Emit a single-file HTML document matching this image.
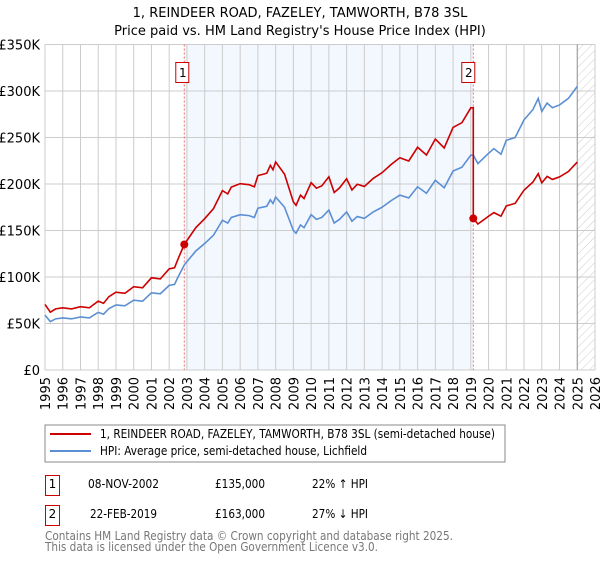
<!DOCTYPE html>
<html><head><meta charset="utf-8"><style>
body{margin:0;background:#fff;width:600px;height:560px;overflow:hidden;font-family:"DejaVu Sans","Liberation Sans",sans-serif}
svg text{font-family:"DejaVu Sans","Liberation Sans",sans-serif}
</style></head><body>
<svg id="c" width="600" height="560" xmlns="http://www.w3.org/2000/svg">
<defs><pattern id="hatch" width="6" height="6" patternUnits="userSpaceOnUse" patternTransform="rotate(45)"><line x1="0" y1="0" x2="0" y2="6" stroke="#ccc" stroke-width="1"/></pattern></defs>
<text x="300" y="17" text-anchor="middle" font-size="13">1, REINDEER ROAD, FAZELEY, TAMWORTH, B78 3SL</text>
<text x="300" y="35" text-anchor="middle" font-size="13">Price paid vs. HM Land Registry's House Price Index (HPI)</text>
<g id="plot"></g>
<rect x="45" y="425" width="460" height="37" fill="#fff" stroke="#888"/>
<line x1="50" y1="434" x2="91" y2="434" stroke="#cc0000" stroke-width="2"/>
<text x="100" y="438" font-size="12" textLength="395" lengthAdjust="spacingAndGlyphs">1, REINDEER ROAD, FAZELEY, TAMWORTH, B78 3SL (semi-detached house)</text>
<line x1="50" y1="451" x2="91" y2="451" stroke="#5b8fd4" stroke-width="2"/>
<text x="100" y="455" font-size="12" textLength="267" lengthAdjust="spacingAndGlyphs">HPI: Average price, semi-detached house, Lichfield</text>
<rect x="45.5" y="475.5" width="14" height="20" fill="#fff" stroke="#cc0000"/>
<text x="52.5" y="488" font-size="12" text-anchor="middle">1</text>
<text x="88" y="488" font-size="12" textLength="71" lengthAdjust="spacingAndGlyphs">08-NOV-2002</text>
<text x="215" y="488" font-size="12" textLength="50" lengthAdjust="spacingAndGlyphs">£135,000</text>
<text x="312" y="488" font-size="12" textLength="56" lengthAdjust="spacingAndGlyphs">22% ↑ HPI</text>
<rect x="45.5" y="505.5" width="14" height="20" fill="#fff" stroke="#cc0000"/>
<text x="52.5" y="518" font-size="12" text-anchor="middle">2</text>
<text x="90" y="518" font-size="12" textLength="67" lengthAdjust="spacingAndGlyphs">22-FEB-2019</text>
<text x="215" y="518" font-size="12" textLength="50" lengthAdjust="spacingAndGlyphs">£163,000</text>
<text x="312" y="518" font-size="12" textLength="56" lengthAdjust="spacingAndGlyphs">27% ↓ HPI</text>
<text x="45" y="540" font-size="12" fill="#777" textLength="408" lengthAdjust="spacingAndGlyphs">Contains HM Land Registry data © Crown copyright and database right 2025.</text>
<text x="45" y="551" font-size="12" fill="#777" textLength="333" lengthAdjust="spacingAndGlyphs">This data is licensed under the Open Government Licence v3.0.</text>
</svg>
<script>
const yTicks=[0,50000,100000,150000,200000,250000,300000,350000];
const yTickLabels=["£0","£50K","£100K","£150K","£200K","£250K","£300K","£350K"];
const xYears=[1995,1996,1997,1998,1999,2000,2001,2002,2003,2004,2005,2006,2007,2008,2009,2010,2011,2012,2013,2014,2015,2016,2017,2018,2019,2020,2021,2022,2023,2024,2025,2026];
const hpiDates=[1995,1995.3,1995.6,1996,1996.5,1997,1997.5,1998,1998.3,1998.6,1999,1999.5,2000,2000.5,2001,2001.5,2002,2002.3,2002.5,2002.85,2003.5,2004,2004.5,2005,2005.3,2005.5,2006,2006.5,2006.8,2007,2007.5,2007.7,2007.85,2008,2008.5,2009,2009.15,2009.4,2009.6,2010,2010.3,2010.6,2011,2011.3,2011.6,2012,2012.3,2012.6,2013,2013.5,2014,2014.5,2015,2015.5,2016,2016.5,2017,2017.5,2018,2018.5,2019,2019.14,2019.4,2020,2020.3,2020.7,2021,2021.5,2022,2022.5,2022.8,2023,2023.3,2023.6,2024,2024.5,2025];
const hpiValues=[59000,52000,55000,56000,55000,57000,56000,62000,60000,66000,70000,69000,75000,74000,83000,82000,91000,92000,100000,113000,128000,136000,145000,161000,158000,164000,167000,166000,164000,174000,176000,183000,179000,186000,175000,150000,147000,156000,153000,167000,162000,164000,172000,158000,162000,170000,160000,165000,163000,170000,175000,182000,188000,185000,197000,190000,204000,196000,214000,218000,231000,231000,222000,233000,238000,232000,247000,250000,269000,280000,292000,278000,287000,282000,285000,292000,305000];
const saleDates=[2002.85,2019.14];
const salePrices=[135000,163000];
const NS="http://www.w3.org/2000/svg";
const L=45,R=595,T=44.5,B=370,X0=1995,X1=2026,YMAX=350000;
const xs=t=>L+(t-X0)/(X1-X0)*(R-L);
const ys=v=>B-v/YMAX*(B-T);
const g=document.getElementById('plot');
function mk(tag,at){const e=document.createElementNS(NS,tag);for(const k in at)e.setAttribute(k,at[k]);g.appendChild(e);return e;}
let e;
e=mk('rect',{x:xs(saleDates[0]),y:T,width:xs(saleDates[1])-xs(saleDates[0]),height:B-T,fill:'#eef3fd',opacity:0.7});


e=mk('rect',{x:xs(2025.0),y:T,width:R-xs(2025.0),height:B-T,fill:'url(#hatch)'});


yTicks.forEach((v,i)=>{
 e=mk('line',{x1:L,x2:R,y1:ys(v),y2:ys(v),stroke:'#ccc','stroke-width':1});
 
 
 e=mk('text',{x:40,y:ys(v)+5,'text-anchor':'end','font-size':13});
 e.textContent=yTickLabels[i];
 
 
});
xYears.forEach(yr=>{
 e=mk('line',{x1:xs(yr),x2:xs(yr),y1:T,y2:B,stroke:'#ccc','stroke-width':1});
 
 
 e=mk('text',{x:0,y:0,'text-anchor':'end','font-size':13,transform:`translate(${xs(yr)+5},377) rotate(-90)`});
 e.textContent=yr;
 
 
});
e=mk('line',{x1:xs(2025.0),x2:xs(2025.0),y1:T,y2:B,stroke:'#999','stroke-width':1});


saleDates.forEach((d,i)=>{
 e=mk('line',{x1:xs(d),x2:xs(d),y1:T,y2:B,stroke:'#f07070','stroke-width':1,'stroke-dasharray':'2,2'});
 
 
 e=mk('rect',{x:xs(d)-(i?11:8)-0.5,y:62.5,width:13,height:20,fill:'#fff',stroke:'#cc0000'});
 
 
 e=mk('text',{x:xs(d)-(i?4.5:1.5),y:77,'text-anchor':'middle','font-size':12});
 e.textContent=String(i+1);
 
 
});
function hpiAt(t){for(let i=1;i<hpiDates.length;i++){if(t<=hpiDates[i]){const f=(t-hpiDates[i-1])/(hpiDates[i]-hpiDates[i-1]);return hpiValues[i-1]+f*(hpiValues[i]-hpiValues[i-1]);}}return hpiValues[hpiValues.length-1];}
e=mk('polyline',{points:hpiDates.map((d,i)=>xs(d)+','+ys(hpiValues[i])).join(' '),fill:'none',stroke:'#5b8fd4','stroke-width':1.6});


const r1=salePrices[0]/hpiAt(saleDates[0]);
const rEnd=282000/hpiAt(saleDates[1]);
const r2=salePrices[1]/hpiAt(saleDates[1]);
let pts=[];
hpiDates.forEach((d,i)=>{
 if(d<saleDates[1]){const f=Math.max(0,Math.min(1,(d-saleDates[0])/(saleDates[1]-saleDates[0])));const r=r1+(d>saleDates[0]?(rEnd-r1)*f:0);pts.push(xs(d)+','+ys(hpiValues[i]*r));}
});
pts.push(xs(saleDates[1])+','+ys(hpiAt(saleDates[1])*rEnd));
pts.push(xs(saleDates[1])+','+ys(salePrices[1]));
hpiDates.forEach((d,i)=>{if(d>saleDates[1])pts.push(xs(d)+','+ys(hpiValues[i]*r2*(1+0.04*(d-saleDates[1])/6)));});
e=mk('polyline',{points:pts.join(' '),fill:'none',stroke:'#cc0000','stroke-width':1.6});


saleDates.forEach((d,i)=>{
 e=mk('circle',{cx:xs(d),cy:ys(salePrices[i]),r:4,fill:'#cc0000'});
 
 
});
</script>
</body></html>
